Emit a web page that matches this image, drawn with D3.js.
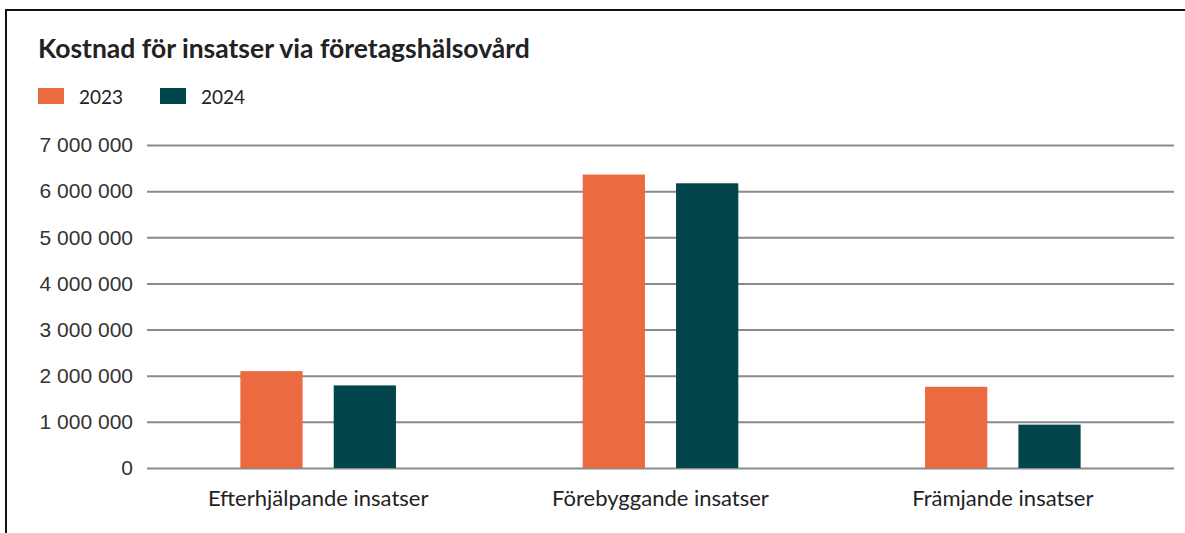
<!DOCTYPE html>
<html>
<head>
<meta charset="utf-8">
<script src="https://cdn.jsdelivr.net/npm/d3@7"></script>
<style>
  html, body { margin: 0; padding: 0; background: #fff; }
  svg { display: block; }
</style>
</head>
<body>
<div id="chart"></div>
<script>
const categories = ["Efterhjälpande insatser", "Förebyggande insatser", "Främjande insatser"];
const years = ["2023", "2024"];
const values2023 = [2100000, 6360000, 1760000];
const values2024 = [1790000, 6170000, 940000];
const yTicks = [0, 1000000, 2000000, 3000000, 4000000, 5000000, 6000000, 7000000];
const colors = ["#ec6a40", "#02454a"];

const width = 1185;
const height = 533;

const svg = d3.select("#chart")
  .append("svg")
  .attr("width", width)
  .attr("height", height);

// frame (top and left edges visible)
svg.append("path")
  .attr("d", `M6,${height} L6,10 L${width},10`)
  .attr("fill", "none")
  .attr("stroke", "#111")
  .attr("stroke-width", 2);

svg.append("text")
  .attr("x", 38)
  .attr("y", 58)
  .attr("font-family", "Lato, 'Open Sans', sans-serif")
  .attr("font-weight", "bold")
  .attr("font-size", 26.5)
  .attr("fill", "#222")
  .text("Kostnad för insatser via företagshälsovård");

// legend
const legendX = [38, 160];
const legend = svg.selectAll(".legend")
  .data(years)
  .enter()
  .append("g")
  .attr("transform", (d, i) => `translate(${legendX[i]},88)`);

legend.append("rect")
  .attr("width", 26)
  .attr("height", 16)
  .attr("fill", (d, i) => colors[i]);

legend.append("text")
  .attr("x", 41)
  .attr("y", 16)
  .attr("font-family", "Lato, 'Open Sans', sans-serif")
  .attr("font-size", 19)
  .attr("fill", "#222")
  .text(d => d);

// plot area
const plotLeft = 147, plotRight = 1174, plotTop = 145, plotBottom = 468;

const y = d3.scaleLinear()
  .domain([0, 7000000])
  .range([plotBottom, plotTop]);

const x0 = d3.scaleBand()
  .domain(categories)
  .range([plotLeft, plotRight])
  .padding(0);

const x1 = d3.scaleBand()
  .domain(years)
  .range([0, x0.bandwidth()])
  .paddingInner(1 / 3)
  .paddingOuter(1.0);

const locale = d3.formatLocale({ decimal: ",", thousands: " ", grouping: [3], currency: ["", " kr"] });
const fmt = locale.format(",");

const yAxis = svg.append("g")
  .attr("transform", `translate(${plotLeft},0)`)
  .call(d3.axisLeft(y)
    .tickValues(yTicks)
    .tickFormat(fmt)
    .tickSize(-(plotRight - plotLeft))
    .tickPadding(14));

yAxis.select(".domain").remove();
yAxis.selectAll(".tick line")
  .attr("stroke", "#8a8a8a")
  .attr("stroke-width", 2);
yAxis.selectAll(".tick text")
  .attr("font-family", "'Liberation Sans', Arial, sans-serif")
  .attr("font-size", 21)
  .attr("fill", "#333");

// bars
const series = [values2023, values2024];
const groups = svg.selectAll(".group")
  .data(categories)
  .enter()
  .append("g")
  .attr("transform", d => `translate(${x0(d)},0)`);

groups.selectAll("rect")
  .data((c, ci) => years.map((yr, si) => ({ yr, si, v: series[si][ci] })))
  .enter()
  .append("rect")
  .attr("x", d => x1(d.yr))
  .attr("width", x1.bandwidth())
  .attr("y", d => y(d.v))
  .attr("height", d => y(0) - y(d.v))
  .attr("fill", d => colors[d.si]);

// category labels
svg.selectAll(".cat")
  .data(categories)
  .enter()
  .append("text")
  .attr("x", d => x0(d) + x0.bandwidth() / 2)
  .attr("y", 506)
  .attr("text-anchor", "middle")
  .attr("font-family", "Lato, 'Open Sans', sans-serif")
  .attr("font-size", 22)
  .attr("fill", "#222")
  .text(d => d);
</script>
</body>
</html>
